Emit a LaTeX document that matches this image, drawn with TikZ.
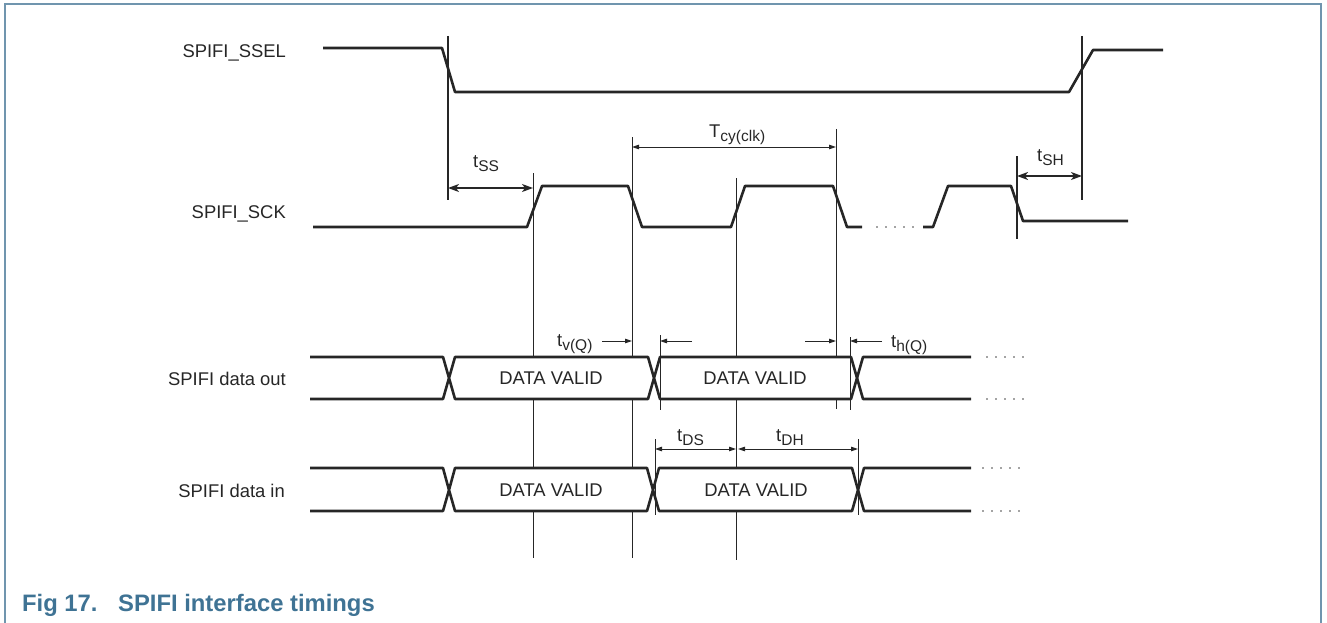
\documentclass[tikz,border=0pt]{standalone}
\usepackage{fontspec}
\setmainfont{Liberation Sans}
\usetikzlibrary{arrows.meta}
\definecolor{framecol}{HTML}{7095AE}
\definecolor{capcol}{HTML}{3F7394}
\definecolor{ink}{HTML}{262626}
\newcommand\tlab[2]{#1\raisebox{-0.25em}{\fontsize{15.5}{16}\selectfont #2}}
\begin{document}
\begin{tikzpicture}[x=1pt,y=-1pt,
  sig/.style={draw=ink,line width=2.6pt,line join=round},
  cellbox/.style={sig,fill=white},
  edgeline/.style={draw=ink,line width=1.8pt},
  guide/.style={draw=ink,line width=0.8pt},
  bigdim/.style={draw=ink,line width=1.4pt,{Stealth[length=11pt,width=8pt,inset=3pt]}-{Stealth[length=11pt,width=8pt,inset=3pt]}},
  dim/.style={draw=ink,line width=0.9pt,{Triangle[length=7pt,width=4.5pt]}-{Triangle[length=7pt,width=4.5pt]}},
  onearrow/.style={draw=ink,line width=0.9pt,-{Triangle[length=7pt,width=4.5pt]}},
  lab/.style={font=\fontsize{18.4}{21}\selectfont,text=ink,inner sep=0pt},
  dot/.style={fill=ink!85}]
\useasboundingbox (0,0) rectangle (1327,623);
% frame
\draw[framecol,line width=1.2pt] (5,640) -- (5,4) -- (1321,4) -- (1321,640);

% signal names
\node[lab,anchor=base east] (nSSEL) at (286,58) {SPIFI\_SSEL};
\node[lab,anchor=base east] (nSCK) at (286,218.5) {SPIFI\_SCK};
\node[lab,anchor=base east] (nOUT) at (286,385) {SPIFI data out};
\node[lab,anchor=base east] (nIN) at (285,497) {SPIFI data in};

% vertical reference lines (behind cells)
\coordinate (v1t) at (533,173); \coordinate (v1b) at (533,558);
\coordinate (v2t) at (632,137); \coordinate (v2b) at (632,558);
\coordinate (v3t) at (736,178); \coordinate (v3b) at (736,560);
\coordinate (v4t) at (836,129); \coordinate (v4b) at (836,409);
\draw[guide] (v1t) -- (v1b);
\draw[guide] (v2t) -- (v2b);
\draw[guide] (v3t) -- (v3b);
\draw[guide] (v4t) -- (v4b);

% SSEL edges
\coordinate (e1t) at (448,36); \coordinate (e1b) at (448,200);
\coordinate (e2t) at (1082,36); \coordinate (e2b) at (1082,200);
\coordinate (e3t) at (1017,156); \coordinate (e3b) at (1017,239);
\draw[edgeline] (e1t) -- (e1b);
\draw[edgeline] (e2t) -- (e2b);
\draw[edgeline] (e3t) -- (e3b);

% SPIFI_SSEL waveform
\draw[sig] (323,48) -- (442,48) -- (455,92) -- (1069,92) -- (1093,50) -- (1163,50);

% SPIFI_SCK waveform
\draw[sig] (313,227) -- (527,227) -- (542,186) -- (628,186) -- (642,227) -- (731,227)
  -- (745,186) -- (833,186) -- (847,227) -- (862,227);
\foreach \x in {877,886,895,904,913} \fill[dot] (\x,227) circle (0.9);
\draw[sig] (923,227) -- (933,227) -- (948,186) -- (1011,186) -- (1023,221) -- (1128,221);

% SPIFI data out
\draw[sig] (310,357) -- (443,357) -- (449,378) -- (443,399) -- (310,399);
\draw[cellbox] (449,378) -- (455,357) -- (648,357) -- (654,378) -- (648,399) -- (455,399) -- cycle;
\draw[cellbox] (654,378) -- (660,357) -- (851,357) -- (857,378) -- (851,399) -- (660,399) -- cycle;
\draw[sig] (971,357) -- (863,357) -- (857,378) -- (863,399) -- (971,399);
\foreach \x in {987,996,1005,1014,1023} {\fill[dot] (\x,357) circle (0.9); \fill[dot] (\x,399) circle (0.9);}
\node[lab] (o1) at (551,378) {DATA VALID};
\node[lab] (o2) at (755,378) {DATA VALID};

% SPIFI data in
\draw[sig] (310,468) -- (443,468) -- (449,490) -- (443,511) -- (310,511);
\draw[cellbox] (449,490) -- (455,468) -- (647,468) -- (653,490) -- (647,511) -- (455,511) -- cycle;
\draw[cellbox] (653,490) -- (659,468) -- (852,468) -- (858,490) -- (852,511) -- (659,511) -- cycle;
\draw[sig] (971,468) -- (864,468) -- (858,490) -- (864,511) -- (971,511);
\foreach \x in {983,992,1001,1010,1019} {\fill[dot] (\x,468) circle (0.9); \fill[dot] (\x,511) circle (0.9);}
\node[lab] (i1) at (551,490) {DATA VALID};
\node[lab] (i2) at (756,490) {DATA VALID};

% short ticks on top of cells
\coordinate (k1t) at (660,335); \coordinate (k1b) at (660,410);
\coordinate (k2t) at (850,337); \coordinate (k2b) at (850,410);
\coordinate (k3t) at (655,439); \coordinate (k3b) at (655,515);
\coordinate (k4t) at (858,439); \coordinate (k4b) at (858,515);
\draw[guide] (k1t) -- (k1b);
\draw[guide] (k2t) -- (k2b);
\draw[guide] (k3t) -- (k3b);
\draw[guide] (k4t) -- (k4b);

% dimension arrows
\draw[bigdim] (448,188) -- (533,188);
\draw[bigdim] (1017,176) -- (1082,176);
\draw[dim] (632,147) -- (836,147);
\draw[onearrow] (602,341) -- (632,341);
\draw[onearrow] (692,341) -- (660,341);
\draw[onearrow] (805,341) -- (836,341);
\draw[onearrow] (882,341) -- (850,341);
\draw[dim] (655,449) -- (736,449);
\draw[dim] (738,449) -- (858,449);

% timing labels
\node[lab,anchor=base west] (tss) at (473,167) {\tlab{t}{SS}};
\node[lab,anchor=base west] (tcy) at (709,137) {\tlab{T}{cy(clk)}};
\node[lab,anchor=base west] (tsh) at (1037,161) {\tlab{t}{SH}};
\node[lab,anchor=base west] (tv) at (557,346) {\tlab{t}{v(Q)}};
\node[lab,anchor=base west] (th) at (891,347) {\tlab{t}{h(Q)}};
\node[lab,anchor=base west] (tds) at (677,441) {\tlab{t}{DS}};
\node[lab,anchor=base west] (tdh) at (776,441) {\tlab{t}{DH}};

% caption
\node[anchor=base west,inner sep=0pt,text=capcol,font=\fontsize{23.8}{26}\selectfont\bfseries] (cap1) at (22,611) {Fig 17.};
\node[anchor=base west,inner sep=0pt,text=capcol,font=\fontsize{23.8}{26}\selectfont\bfseries] (cap2) at (118,611) {SPIFI interface timings};
\end{tikzpicture}
\end{document}
